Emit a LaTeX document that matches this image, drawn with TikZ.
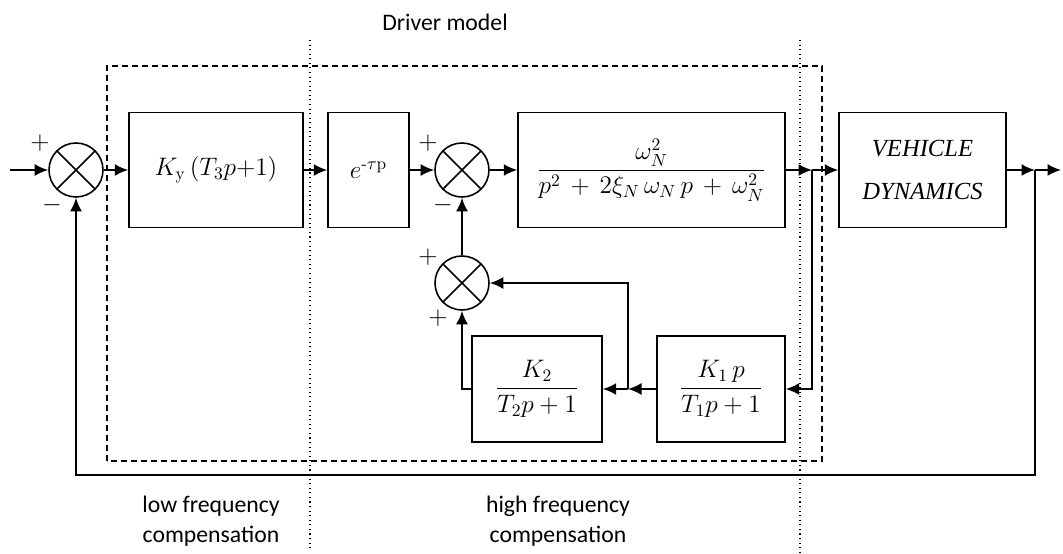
\documentclass[tikz,border=0pt]{standalone}
\usepackage{amsmath}
\usepackage{fontspec}
\setsansfont{Carlito}
\newfontfamily\vehfont{Liberation Serif}
\usepackage{tikz}
\usetikzlibrary{positioning, arrows.meta}

\begin{document}
\begin{tikzpicture}[
    % GLOBAL CFG
    font=\fontsize{14}{17}\selectfont,
    >={Latex[length=2.7mm,width=2.4mm]},
    % Styles
    block/.style={% For the transfer function boxes
        rectangle,
        draw,
        line width=0.8pt,
        minimum height=2.3cm,
        inner sep=2pt,
        },
    sum/.style={% For the summing junctions
        circle,
        draw,
        line width=0.9pt,
        minimum size=1.08cm,
        inner sep=0pt,
        path picture={\draw[line width=0.9pt]
            (path picture bounding box.center) +(45:0.6cm) -- +(225:0.6cm)
            (path picture bounding box.center) +(135:0.6cm) -- +(-45:0.6cm);},
        },
    sgn/.style={% For the signs at the junctions
        inner sep=0pt,
        },
    mylabel/.style={% Sans texts round the picture
        font=\sffamily\fontsize{13.5}{17}\selectfont,
        align=center,
        },
    vehtext/.style={% Serif italic text in the plant box
        font=\fontsize{14}{24}\selectfont\vehfont\itshape,
        align=center,
        },
    ArrowC1/.style={% Signal lines
        line width=1.1pt,
        },
    region/.style={% Driver model frame
        line width=1pt,
        dash pattern=on 1.2mm off 0.8mm,
        },
    border/.style={% Frequency borders
        line width=0.6pt,
        dotted,
        },
    ]
    \useasboundingbox (0,0) rectangle (21.26,11.08);

    % Draw the frame and the borders
    \draw [region] (2.14,1.86) rectangle (16.44,9.76);
    \draw [border] (6.2,10.28) -- (6.2,0.12);
    \draw [border] (16.0,10.28) -- (16.0,0);

    % Draw the texts
    \node [mylabel] (title) at (8.9,10.64) {Driver model};
    \node [mylabel] (low) at (4.22,0.65) {low frequency\\compensation};
    \node [mylabel] (high) at (11.16,0.65) {high frequency\\compensation};

    % Draw junctions named sum#
    \node [sum] (sum1) at (1.52,7.68) {};
    \node [sum] (sum2) at (9.24,7.68) {};
    \node [sum] (sum3) at (9.24,5.42) {};

    % Draw the blocks
    \node [block, minimum width=3.48cm] (gain) at (4.32,7.68) {$K_{\mathrm{y}}\,(T_3p{+}1)$};
    \node [block, minimum width=1.62cm] (delay) at (7.37,7.68) {$e^{\text{-}\tau\mathrm{p}}$};
    \node [block, minimum width=5.34cm] (plant) at (13.03,7.68) {$\dfrac{\omega_N^2}{p^2\,+\,2\xi_N\,\omega_N\,p\,+\,\omega_N^2}$};
    \node [block, minimum width=3.34cm, vehtext] (vehicle) at (18.45,7.68) {VEHICLE\\DYNAMICS};
    \node [block, minimum width=2.6cm, minimum height=2.12cm] (k2) at (10.74,3.30) {$\dfrac{K_2}{T_2p+1}$};
    \node [block, minimum width=2.56cm, minimum height=2.12cm] (k1) at (14.42,3.30) {$\dfrac{K_1\,p}{T_1p+1}$};

    % Draw the signs
    \node [sgn] (s1p) at (0.8,8.22) {$+$};
    \node [sgn] (s1m) at (1.04,6.98) {$-$};
    \node [sgn] (s2p) at (8.56,8.22) {$+$};
    \node [sgn] (s2m) at (8.86,6.98) {$-$};
    \node [sgn] (s3p) at (8.56,5.94) {$+$};
    \node [sgn] (s3q) at (8.76,4.72) {$+$};

    % Branch points and free ends
    \coordinate (in) at (0.2,7.68);
    \coordinate (b1) at (16.24,7.68);
    \coordinate (b2) at (20.7,7.68);
    \coordinate (out) at (21.22,7.68);
    \coordinate (b3) at (12.56,3.30);
    \coordinate (fb) at (20.7,1.58);

    % Forward path
    \draw [->,ArrowC1] (in) -- (sum1);
    \draw [->,ArrowC1] (sum1) -- (gain);
    \draw [->,ArrowC1] (gain) -- (delay);
    \draw [->,ArrowC1] (delay) -- (sum2);
    \draw [->,ArrowC1] (sum2) -- (plant);
    \draw [->,ArrowC1] (plant) -- (b1);
    \draw [->,ArrowC1] (b1) -- (vehicle);
    \draw [->,ArrowC1] (vehicle) -- (b2);
    \draw [->,ArrowC1] (b2) -- (out);

    % Inner loop
    \draw [->,ArrowC1] (b1) |- (k1);
    \draw [->,ArrowC1] (k1) -- (b3);
    \draw [->,ArrowC1] (b3) -- (k2);
    \draw [->,ArrowC1] (b3) |- (sum3);
    \draw [->,ArrowC1] (k2) -| (sum3);
    \draw [->,ArrowC1] (sum3) -- (sum2);

    % Outer loop
    \draw [->,ArrowC1] (b2) -- (fb) -| (sum1);
\end{tikzpicture}
\end{document}
